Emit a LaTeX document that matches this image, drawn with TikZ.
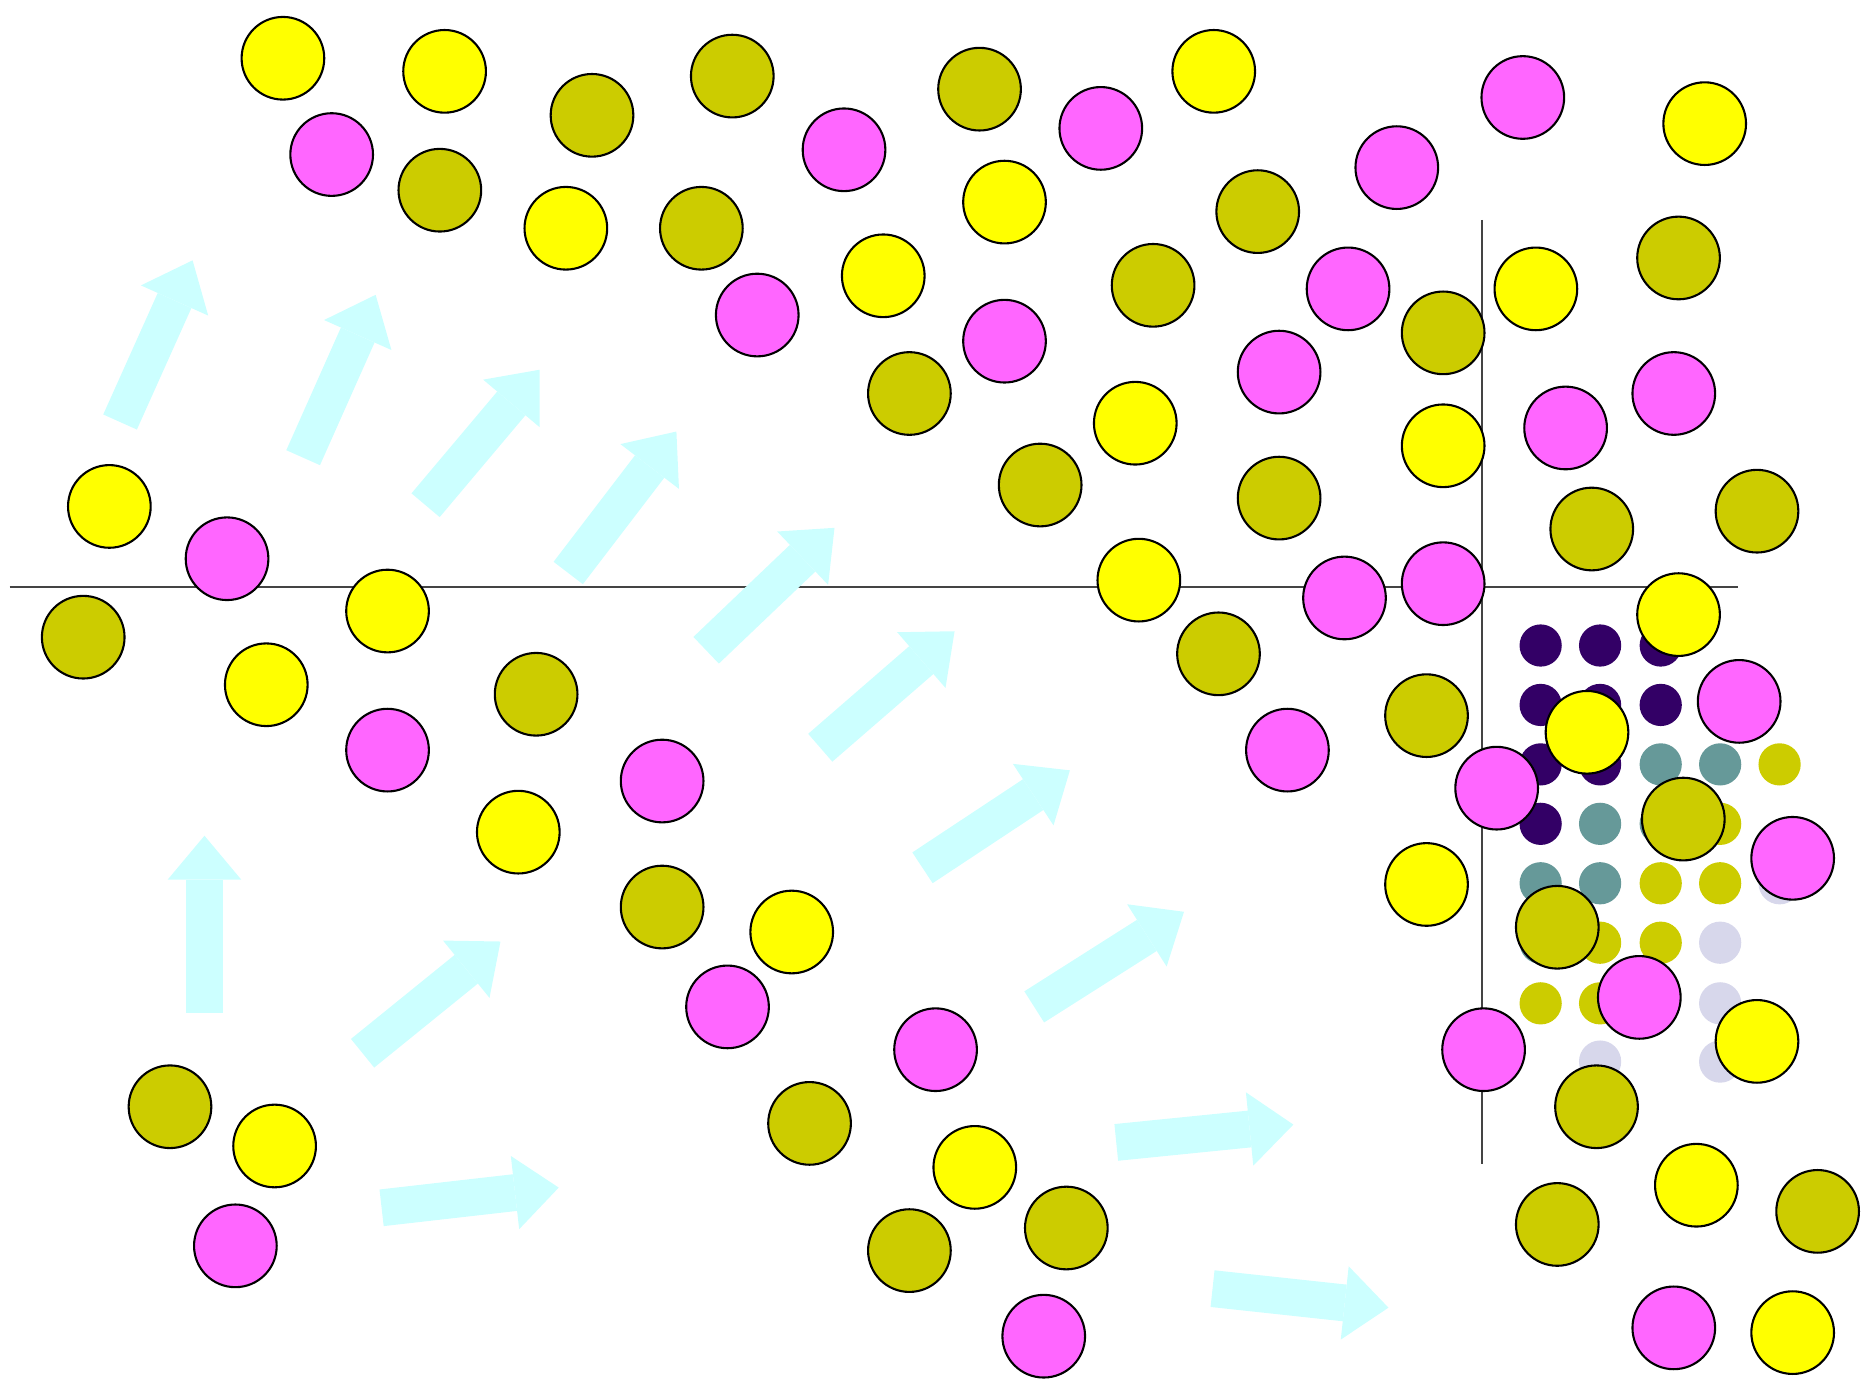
\documentclass[tikz,border=0pt]{standalone}
\usepackage{tikz}
\usetikzlibrary{arrows.meta}
\definecolor{cGiallo}{HTML}{FFFF00}
\definecolor{cRosa}{HTML}{FF66FF}
\definecolor{cOliva}{HTML}{CCCC00}
\definecolor{cViola}{HTML}{330066}
\definecolor{cAcqua}{HTML}{669999}
\definecolor{cLilla}{HTML}{D7D7EB}
\definecolor{cCiano}{HTML}{CCFFFF}
\definecolor{cAsse}{HTML}{444444}
\tikzset{
  palla/.style={circle, draw=black, line width=0.5pt, minimum size=6.95mm, inner sep=0pt},
  gialla/.style={palla, fill=cGiallo},
  rosa/.style={palla, fill=cRosa},
  oliva/.style={palla, fill=cOliva},
  puntino/.style={circle, minimum size=3.55mm, inner sep=0pt},
  freccia/.style={draw=cCiano, line width=3.1mm, -{Triangle[width=6.2mm,length=3.7mm,line width=0pt]}},
  asse/.style={draw=cAsse, line width=0.5pt}
}
\begin{document}
\begin{tikzpicture}[x=0.01cm, y=-0.01cm]
  \useasboundingbox (0,0) rectangle (1568,1160);
  % assi
  \draw[asse] (8,494) -- (1462,494);
  \draw[asse] (1247,185) -- (1247,979);
  % frecce
  \draw[freccia] (101,355) -- (162,219);
  \draw[freccia] (255,385) -- (316,248);
  \draw[freccia] (358,425) -- (454,311);
  \draw[freccia] (478,482) -- (569,363);
  \draw[freccia] (594,547) -- (702,444);
  \draw[freccia] (690,629) -- (803,531);
  \draw[freccia] (776,730) -- (900,648);
  \draw[freccia] (870,847) -- (996,767);
  \draw[freccia] (172,852) -- (172,703);
  \draw[freccia] (305,886) -- (421,792);
  \draw[freccia] (321,1016) -- (470,999);
  \draw[freccia] (939,961) -- (1088,946);
  \draw[freccia] (1020,1084) -- (1168,1100);
  % reticolo
  \node[puntino, fill=cViola] (p1) at (1296,543) {};  \node[puntino, fill=cViola] (p2) at (1346,543) {};
  \node[puntino, fill=cViola] (p3) at (1397,543) {};  \node[puntino, fill=cViola] (p4) at (1296,593) {};
  \node[puntino, fill=cViola] (p5) at (1346,593) {};  \node[puntino, fill=cViola] (p6) at (1397,593) {};
  \node[puntino, fill=cViola] (p7) at (1296,643) {};  \node[puntino, fill=cViola] (p8) at (1346,643) {};
  \node[puntino, fill=cViola] (p9) at (1296,693) {};
  \node[puntino, fill=cAcqua] (t1) at (1397,643) {};  \node[puntino, fill=cAcqua] (t2) at (1447,643) {};
  \node[puntino, fill=cAcqua] (t3) at (1346,693) {};  \node[puntino, fill=cAcqua] (t4) at (1397,693) {};
  \node[puntino, fill=cAcqua] (t5) at (1296,743) {};  \node[puntino, fill=cAcqua] (t6) at (1346,743) {};
  \node[puntino, fill=cAcqua] (t7) at (1296,793) {};
  \node[puntino, fill=cOliva] (s1) at (1497,643) {};  \node[puntino, fill=cOliva] (s2) at (1447,693) {};
  \node[puntino, fill=cOliva] (s3) at (1397,743) {};  \node[puntino, fill=cOliva] (s4) at (1447,743) {};
  \node[puntino, fill=cOliva] (s5) at (1346,793) {};  \node[puntino, fill=cOliva] (s6) at (1397,793) {};
  \node[puntino, fill=cOliva] (s7) at (1296,844) {};  \node[puntino, fill=cOliva] (s8) at (1346,844) {};
  \node[puntino, fill=cLilla] (l1) at (1497,743) {};  \node[puntino, fill=cLilla] (l2) at (1447,793) {};
  \node[puntino, fill=cLilla] (l3) at (1447,844) {};  \node[puntino, fill=cLilla] (l4) at (1346,893) {};
  \node[puntino, fill=cLilla] (l5) at (1447,893) {};
  % particelle in alto
  \node[gialla] (y1) at (238,49) {};    \node[gialla] (y2) at (374,60) {};
  \node[rosa] (m1) at (279,130) {};     \node[oliva] (o1) at (370,160) {};
  \node[oliva] (o2) at (498,97) {};     \node[gialla] (y3) at (476,192) {};
  \node[oliva] (o3) at (616,64) {};     \node[oliva] (o4) at (590,192) {};
  \node[rosa] (m2) at (710,126) {};     \node[rosa] (m3) at (637,265) {};
  \node[oliva] (o5) at (824,75) {};     \node[gialla] (y4) at (845,170) {};
  \node[gialla] (y5) at (743,232) {};   \node[rosa] (m4) at (926,108) {};
  \node[gialla] (y6) at (1021,60) {};   \node[rosa] (m5) at (845,287) {};
  \node[oliva] (o6) at (765,331) {};    \node[oliva] (o7) at (970,240) {};
  \node[oliva] (o8) at (1058,178) {};   \node[rosa] (m6) at (1175,141) {};
  \node[rosa] (m7) at (1281,82) {};     \node[gialla] (y7) at (1434,104) {};
  \node[rosa] (m8) at (1134,243) {};    \node[oliva] (o9) at (1214,280) {};
  \node[gialla] (y8) at (1292,243) {};  \node[oliva] (o10) at (1412,217) {};
  \node[rosa] (m9) at (1076,313) {};    \node[gialla] (y9) at (955,356) {};
  \node[oliva] (o11) at (875,408) {};   \node[gialla] (y10) at (1214,375) {};
  \node[rosa] (m10) at (1317,360) {};   \node[rosa] (m11) at (1408,331) {};
  \node[oliva] (o12) at (1076,419) {};  \node[oliva] (o13) at (1339,445) {};
  \node[oliva] (o14) at (1478,430) {};
  % particelle a sinistra
  \node[gialla] (y11) at (92,426) {};   \node[rosa] (m12) at (191,470) {};
  \node[oliva] (o15) at (70,536) {};    \node[gialla] (y12) at (326,514) {};
  \node[gialla] (y13) at (224,576) {};  \node[rosa] (m13) at (326,631) {};
  \node[oliva] (o16) at (451,584) {};   \node[gialla] (y14) at (436,700) {};
  \node[rosa] (m14) at (557,657) {};    \node[oliva] (o17) at (557,763) {};
  \node[gialla] (y15) at (666,784) {};  \node[rosa] (m15) at (612,847) {};
  \node[rosa] (m16) at (787,883) {};    \node[oliva] (o18) at (681,945) {};
  \node[gialla] (y16) at (820,982) {};  \node[oliva] (o19) at (897,1033) {};
  \node[oliva] (o20) at (765,1052) {};  \node[rosa] (m17) at (878,1124) {};
  \node[oliva] (o21) at (143,931) {};   \node[gialla] (y17) at (231,964) {};
  \node[rosa] (m18) at (198,1048) {};
  % particelle a destra
  \node[gialla] (y18) at (958,488) {};  \node[rosa] (m19) at (1131,503) {};
  \node[rosa] (m20) at (1214,491) {};   \node[oliva] (o22) at (1025,550) {};
  \node[rosa] (m21) at (1083,631) {};   \node[oliva] (o23) at (1200,602) {};
  \node[gialla] (y19) at (1200,744) {}; \node[gialla] (y20) at (1412,517) {};
  \node[rosa] (m22) at (1463,590) {};   \node[gialla] (y21) at (1335,616) {};
  \node[rosa] (m23) at (1259,663) {};   \node[oliva] (o24) at (1416,689) {};
  \node[rosa] (m24) at (1508,722) {};   \node[oliva] (o25) at (1310,780) {};
  \node[rosa] (m25) at (1379,839) {};   \node[gialla] (y22) at (1478,876) {};
  \node[rosa] (m26) at (1248,883) {};   \node[oliva] (o26) at (1343,931) {};
  \node[gialla] (y23) at (1427,997) {}; \node[oliva] (o27) at (1529,1019) {};
  \node[oliva] (o28) at (1310,1030) {}; \node[rosa] (m27) at (1408,1117) {};
  \node[gialla] (y24) at (1508,1121) {};
\end{tikzpicture}
\end{document}
